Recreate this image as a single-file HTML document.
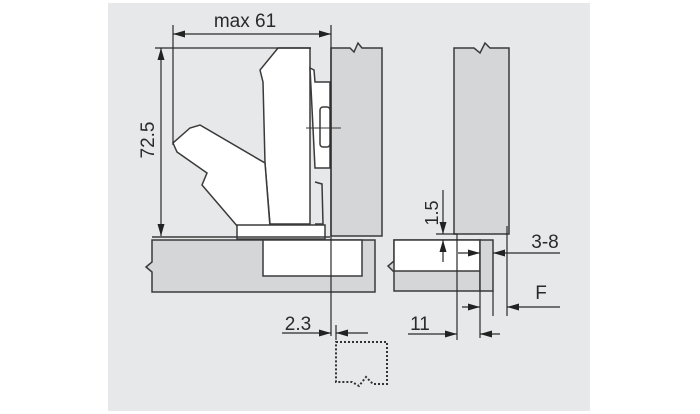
<!DOCTYPE html>
<html><head><meta charset="utf-8"><style>
html,body{margin:0;padding:0;background:#fff;width:700px;height:414px;overflow:hidden}
svg{display:block}
text{font-family:"Liberation Sans",sans-serif;fill:#2a2a2a}
</style></head><body>
<svg width="700" height="414" viewBox="0 0 700 414" xmlns="http://www.w3.org/2000/svg">
<defs>
<marker id="a" viewBox="0 0 12 7" refX="12" refY="3.5" markerWidth="12" markerHeight="7" orient="auto" markerUnits="userSpaceOnUse"><path d="M0,0 L12,3.5 L0,7 z" fill="#222"/></marker>
</defs>
<rect x="108" y="3" width="482" height="408" fill="#e7e8e9"/>
<g stroke="#3a3a3a" stroke-width="1.5" fill="none">
<path d="M331,48 L350,48 L354,52 L358,43 L362,48 L382,48 L382,236 L331,236 Z" fill="#d5d6d8"/>
<path d="M152,240 L375,240 L375,292 L152,292 L152,272 L146,267 L152,262 Z" fill="#d5d6d8"/>
<rect x="263" y="240" width="99" height="36" fill="#fff"/>
<path d="M278,48 L310,48 L310,224 L270,224 L265,163 L263,82 L260,70 Z" fill="#fff"/>
<path d="M173,143 L177,152 L207,173 L202,185 L238,227 L270,227 L265,163 L200,125 L190,128 Z" fill="#fff"/>
<rect x="237" y="225" width="88" height="14" fill="#fff"/>
<path d="M310,68 L314,70 L315,82 L330,82 L330,168 L315,168 Z" fill="#fff"/>
<rect x="320" y="107" width="10" height="40" rx="3" fill="#fff"/>
<path d="M315,182 L322,184 L323,224 L315,224"/>
<line x1="306" y1="128" x2="341" y2="128" stroke-width="1"/>
<line x1="152" y1="237" x2="330" y2="237"/>
<path d="M454,48 L474,48 L480,53 L485,43 L490,48 L509,48 L509,234 L454,234 Z" fill="#d5d6d8"/>
<path d="M394,240 L480,240 L480,291 L394,291 L394,272 L388,266 L394,261 Z" fill="#d5d6d8"/>
<rect x="394" y="240" width="86" height="31" fill="#fff"/>
<rect x="480" y="240" width="13" height="51" fill="#d5d6d8"/>
</g>
<g stroke="#2a2a2a" stroke-width="1.2" fill="none">
<line x1="173" y1="25" x2="173" y2="145"/>
<line x1="331" y1="25" x2="331" y2="336"/>
<line x1="252" y1="34" x2="331" y2="34" marker-end="url(#a)"/>
<line x1="252" y1="34" x2="173" y2="34" marker-end="url(#a)"/>
<line x1="155" y1="48" x2="311" y2="48"/>
<line x1="161" y1="140" x2="161" y2="48" marker-end="url(#a)"/>
<line x1="161" y1="140" x2="161" y2="236" marker-end="url(#a)"/>
<line x1="336" y1="325" x2="336" y2="340"/>
<line x1="282" y1="333" x2="331" y2="333" marker-end="url(#a)"/>
<line x1="368" y1="333" x2="336" y2="333" marker-end="url(#a)"/>
<line x1="457" y1="234" x2="457" y2="340"/>
<line x1="480" y1="291" x2="480" y2="338"/>
<line x1="493" y1="291" x2="493" y2="316"/>
<line x1="507" y1="226" x2="507" y2="316"/>
<line x1="436" y1="234" x2="457" y2="234"/>
<line x1="443" y1="190" x2="443" y2="234" marker-end="url(#a)"/>
<line x1="443" y1="262" x2="443" y2="240" marker-end="url(#a)"/>
<line x1="458" y1="253" x2="480" y2="253" marker-end="url(#a)"/>
<line x1="560" y1="253" x2="493" y2="253" marker-end="url(#a)"/>
<line x1="462" y1="307" x2="480" y2="307" marker-end="url(#a)"/>
<line x1="560" y1="307" x2="507" y2="307" marker-end="url(#a)"/>
<line x1="408" y1="334" x2="457" y2="334" marker-end="url(#a)"/>
<line x1="500" y1="334" x2="480" y2="334" marker-end="url(#a)"/>
</g>
<path d="M336,342 L387,342 L387,384 L373,384 L366,377 L359,386 L352,382 L336,382 Z" fill="none" stroke="#333" stroke-width="2" stroke-dasharray="2,2"/>
<text x="245" y="27" font-size="19" text-anchor="middle">max 61</text>
<text transform="translate(154,140) rotate(-90)" font-size="19" text-anchor="middle">72.5</text>
<text transform="translate(438,213) rotate(-90)" font-size="18" text-anchor="middle">1.5</text>
<text x="545" y="248" font-size="19" text-anchor="middle">3-8</text>
<text x="541" y="299" font-size="19" text-anchor="middle">F</text>
<text x="420" y="330" font-size="19" text-anchor="middle">11</text>
<text x="298" y="330" font-size="19" text-anchor="middle">2.3</text>
</svg>
</body></html>
